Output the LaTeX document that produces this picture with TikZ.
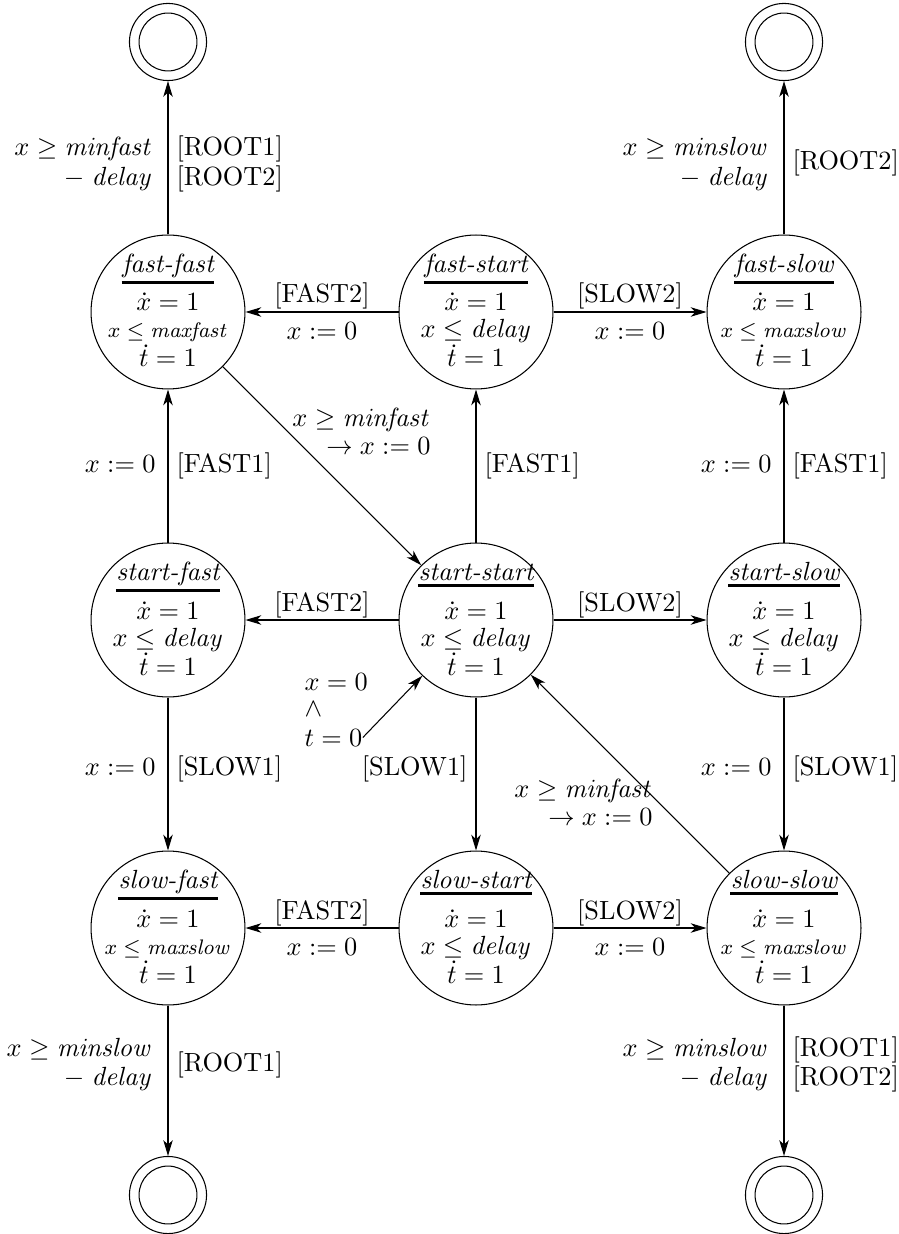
\documentclass[tikz,border=0pt]{standalone}
\usetikzlibrary{arrows.meta,calc}
\newcommand\mkstate[4]{%
  \node[st] (#1) at (#2) {};
  \node[ttl] (#1t) at ($(#1)+(0,-39.5)$) {#3};
  \draw[line width=1.14pt] (#1t.south west) -- (#1t.south east);
  \node[ln] (#1a) at ($(#1)+(0,-1)$) {$\dot x = 1$};
  \node[ln] (#1b) at ($(#1)+(0,26)$) {#4};
  \node[ln] (#1c) at ($(#1)+(0,55)$) {$\dot t = 1$};
}
\begin{document}
\begin{tikzpicture}[x=0.38pt,y=-0.38pt,
  >={Stealth[length=6pt,width=3.6pt,inset=1.7pt]},
  st/.style={circle,draw,minimum size=58.5pt,inner sep=0pt},
  fin/.style={circle,draw,minimum size=29.3pt,inner sep=0pt,
     path picture={\draw (path picture bounding box.center) circle[radius=11pt];}},
  ttl/.style={anchor=base,inner xsep=0pt,inner ysep=1.5pt,font=\itshape},
  ln/.style={anchor=base,inner sep=0pt},
  lbe/.style={anchor=base east,inner sep=0pt},
  lbw/.style={anchor=base west,inner sep=0pt},
  lbc/.style={anchor=base,inner sep=0pt}]
\useasboundingbox (0,0) rectangle (898,1234);

% final states
\node[fin] (fin1) at (168,42) {};
\node[fin] (fin2) at (784,42) {};
\node[fin] (fin3) at (168,1195) {};
\node[fin] (fin4) at (784,1195) {};

% states
\mkstate{ff}{168,312}{fast-fast}{\footnotesize$x\le\mathit{maxfast}$}
\mkstate{fs}{476,312}{fast-start}{$x\le\mathit{delay}$}
\mkstate{fw}{784,312}{fast-slow}{\footnotesize$x\le\mathit{maxslow}$}
\mkstate{sf}{168,620}{start-fast}{$x\le\mathit{delay}$}
\mkstate{ss}{476,620}{start-start}{$x\le\mathit{delay}$}
\mkstate{sw}{784,620}{start-slow}{$x\le\mathit{delay}$}
\mkstate{lf}{168,928}{slow-fast}{\footnotesize$x\le\mathit{maxslow}$}
\mkstate{ls}{476,928}{slow-start}{$x\le\mathit{delay}$}
\mkstate{lw}{784,928}{slow-slow}{\footnotesize$x\le\mathit{maxslow}$}

% connectors
\draw[->] (ff) -- (fin1);
\draw[->] (fw) -- (fin2);
\draw[->] (lf) -- (fin3);
\draw[->] (lw) -- (fin4);
\draw[->] (sf) -- (ff);
\draw[->] (ss) -- (fs);
\draw[->] (sw) -- (fw);
\draw[->] (sf) -- (lf);
\draw[->] (ss) -- (ls);
\draw[->] (sw) -- (lw);
\draw[->] (fs) -- (ff);
\draw[->] (fs) -- (fw);
\draw[->] (ss) -- (sf);
\draw[->] (ss) -- (sw);
\draw[->] (ls) -- (lf);
\draw[->] (ls) -- (lw);
\draw[->] (ff) -- (ss);
\draw[->] (lw) -- (ss);

% initial
\node[lbw] (i1) at (304,690) {$x = 0$};
\node[lbw] (i2) at (304,716) {$\wedge$};
\node[lbw] (i3) at (304,746) {$t = 0$};
\draw[->] (i3.east) -- (ss);

% top labels
\node[lbe] (a1) at (153,156) {$x \ge \mathit{minfast}$};
\node[lbe] (a2) at (153,186) {$-\;\mathit{delay}$};
\node[lbw] (a3) at (176,156) {[ROOT1]};
\node[lbw] (a4) at (176,186) {[ROOT2]};
\node[lbe] (b1) at (769,156) {$x \ge \mathit{minslow}$};
\node[lbe] (b2) at (769,186) {$-\;\mathit{delay}$};
\node[lbw] (b3) at (792,170) {[ROOT2]};

% fast row horizontal labels
\node[lbc] (c1) at (322,303) {[FAST2]};
\node[lbc] (c2) at (322,340) {$x := 0$};
\node[lbc] (c3) at (630,303) {[SLOW2]};
\node[lbc] (c4) at (630,340) {$x := 0$};

% upper vertical labels
\node[lbe] (d1) at (156,473) {$x := 0$};
\node[lbw] (d2) at (176,473) {[FAST1]};
\node[lbw] (d3) at (484,473) {[FAST1]};
\node[lbe] (d4) at (772,473) {$x := 0$};
\node[lbw] (d5) at (792,473) {[FAST1]};

% diagonal labels
\node[lbe] (e1) at (431,427) {$x \ge \mathit{minfast}$};
\node[lbe] (e2) at (431,455) {$\rightarrow x := 0$};
\node[lbe] (e3) at (653,797) {$x \ge \mathit{minfast}$};
\node[lbe] (e4) at (653,825) {$\rightarrow x := 0$};

% start row labels
\node[lbc] (g1) at (322,611) {[FAST2]};
\node[lbc] (g2) at (630,611) {[SLOW2]};

% lower vertical labels
\node[lbe] (h1) at (156,775) {$x := 0$};
\node[lbw] (h2) at (176,775) {[SLOW1]};
\node[lbe] (h3) at (468,775) {[SLOW1]};
\node[lbe] (h4) at (772,775) {$x := 0$};
\node[lbw] (h5) at (792,775) {[SLOW1]};

% slow row labels
\node[lbc] (k1) at (322,919) {[FAST2]};
\node[lbc] (k2) at (322,955) {$x := 0$};
\node[lbc] (k3) at (630,919) {[SLOW2]};
\node[lbc] (k4) at (630,955) {$x := 0$};

% bottom labels
\node[lbe] (m1) at (153,1056) {$x \ge \mathit{minslow}$};
\node[lbe] (m2) at (153,1085) {$-\;\mathit{delay}$};
\node[lbw] (m3) at (176,1071) {[ROOT1]};
\node[lbe] (n1) at (769,1056) {$x \ge \mathit{minslow}$};
\node[lbe] (n2) at (769,1085) {$-\;\mathit{delay}$};
\node[lbw] (n3) at (792,1056) {[ROOT1]};
\node[lbw] (n4) at (792,1085) {[ROOT2]};
\end{tikzpicture}
\end{document}
